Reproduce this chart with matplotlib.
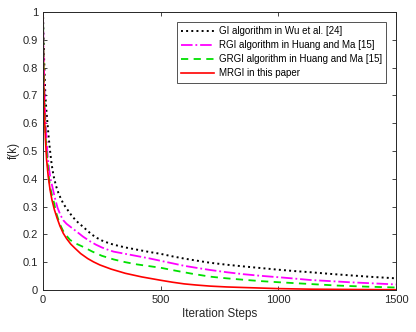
import numpy as np
import matplotlib
matplotlib.use('Agg')
import matplotlib.pyplot as plt

plt.rcParams['font.family'] = ['Liberation Sans', 'DejaVu Sans']

# values
k_gi = [0, 2, 4, 7, 10, 14, 18, 24, 30, 37, 45, 55, 65, 75, 85, 96, 108, 123, 140, 155, 171, 190, 210, 230, 250, 275,
        300, 350, 400, 450, 500, 550, 600, 650, 710, 780, 850, 925, 1000, 1070, 1135, 1220, 1300, 1400, 1500]
f_gi = [1.0, 0.91, 0.85, 0.77, 0.70, 0.65, 0.61, 0.55, 0.50, 0.45, 0.41, 0.375, 0.35, 0.33, 0.313, 0.298, 0.284, 0.266,
        0.25, 0.238, 0.227, 0.212, 0.198, 0.187, 0.178, 0.17, 0.163, 0.153, 0.145, 0.137, 0.13, 0.121, 0.113, 0.106, 0.098,
        0.091, 0.085, 0.079, 0.073, 0.068, 0.064, 0.058, 0.053, 0.047, 0.042]

k_rgi = [0, 2, 5, 8, 10, 15, 20, 26, 32, 38, 44, 52, 62, 75, 87, 100, 120, 143, 170, 200, 225, 250, 275, 300, 350,
         400, 450, 500, 550, 600, 650, 710, 780, 850, 925, 1000, 1070, 1135, 1220, 1300, 1400, 1500]
f_rgi = [1.0, 0.86, 0.75, 0.66, 0.62, 0.54, 0.48, 0.435, 0.40, 0.378, 0.355, 0.326, 0.295, 0.268, 0.25, 0.238, 0.225,
         0.21, 0.192, 0.175, 0.163, 0.153, 0.145, 0.138, 0.13, 0.122, 0.114, 0.105, 0.096, 0.087, 0.08, 0.072, 0.064,
         0.057, 0.051, 0.046, 0.041, 0.036, 0.032, 0.028, 0.024, 0.020]

k_grgi = [0, 2, 4, 6, 8, 12, 16, 20, 25, 30, 37, 45, 57, 70, 85, 100, 115, 140, 171, 210, 250, 300, 350, 400, 450,
          500, 560, 630, 710, 780, 850, 925, 1000, 1125, 1250, 1375, 1500]
f_grgi = [1.0, 0.85, 0.75, 0.67, 0.61, 0.54, 0.49, 0.45, 0.405, 0.37, 0.345, 0.32, 0.275, 0.24, 0.213, 0.195, 0.18,
          0.167, 0.155, 0.138, 0.123, 0.11, 0.10, 0.092, 0.086, 0.08, 0.07, 0.059, 0.048, 0.042, 0.037, 0.032, 0.028,
          0.022, 0.016, 0.012, 0.009]

k_mrgi = [0, 1, 3, 5, 7, 10, 15, 22, 30, 38, 48, 60, 72, 86, 100, 118, 136, 160, 190, 215, 242, 290, 350, 420, 500,
          550, 600, 650, 710, 780, 850, 925, 1000, 1135, 1300, 1500]
f_mrgi = [1.0, 0.88, 0.75, 0.67, 0.61, 0.55, 0.47, 0.41, 0.36, 0.324, 0.29, 0.258, 0.23, 0.204, 0.185, 0.165, 0.15,
          0.131, 0.113, 0.101, 0.09, 0.075, 0.06, 0.047, 0.035, 0.028, 0.022, 0.018, 0.014, 0.011, 0.009, 0.007, 0.005,
          0.003, 0.002, 0.001]

fig = plt.figure(figsize=(4.16, 3.32), dpi=100)
ax = fig.add_axes([0.1034, 0.1265, 0.8486, 0.8374])

ax.plot(k_gi, f_gi, ':', color='black', lw=1.4, label='GI algorithm in Wu et al. [24]')
ax.plot(k_rgi, f_rgi, '-.', color='magenta', lw=1.3, label='RGI algorithm in Huang and Ma [15]')
ax.plot(k_grgi, f_grgi, '--', color='#00e000', lw=1.3, dashes=(4, 3), label='GRGI algorithm in Huang and Ma [15]')
ax.plot(k_mrgi, f_mrgi, '-', color='red', lw=1.2, label='MRGI in this paper')

ax.set_xlim(0, 1500)
ax.set_ylim(0, 1)
ax.set_xticks([0, 500, 1000, 1500])
ax.set_yticks(np.arange(0, 1.01, 0.1))
ax.set_yticklabels(['0', '0.1', '0.2', '0.3', '0.4', '0.5', '0.6', '0.7', '0.8', '0.9', '1'])
ax.tick_params(direction='in', top=True, right=True, labelsize=8, length=3, width=0.6, colors='#262626')
for s in ax.spines.values():
    s.set_color('#262626')
    s.set_linewidth(0.7)

ax.set_xlabel('Iteration Steps', fontsize=8.4, color='#262626', labelpad=2)
ax.set_ylabel('f(k)', fontsize=8.4, color='#262626', labelpad=2)

leg = ax.legend(loc='upper right', fontsize=7, frameon=True, fancybox=False,
                borderaxespad=1.0, handlelength=3.4, handletextpad=0.45,
                labelspacing=0.42, borderpad=0.45)
leg.get_frame().set_edgecolor('#262626')
leg.get_frame().set_linewidth(0.7)

fig.savefig('out.png', dpi=100)
